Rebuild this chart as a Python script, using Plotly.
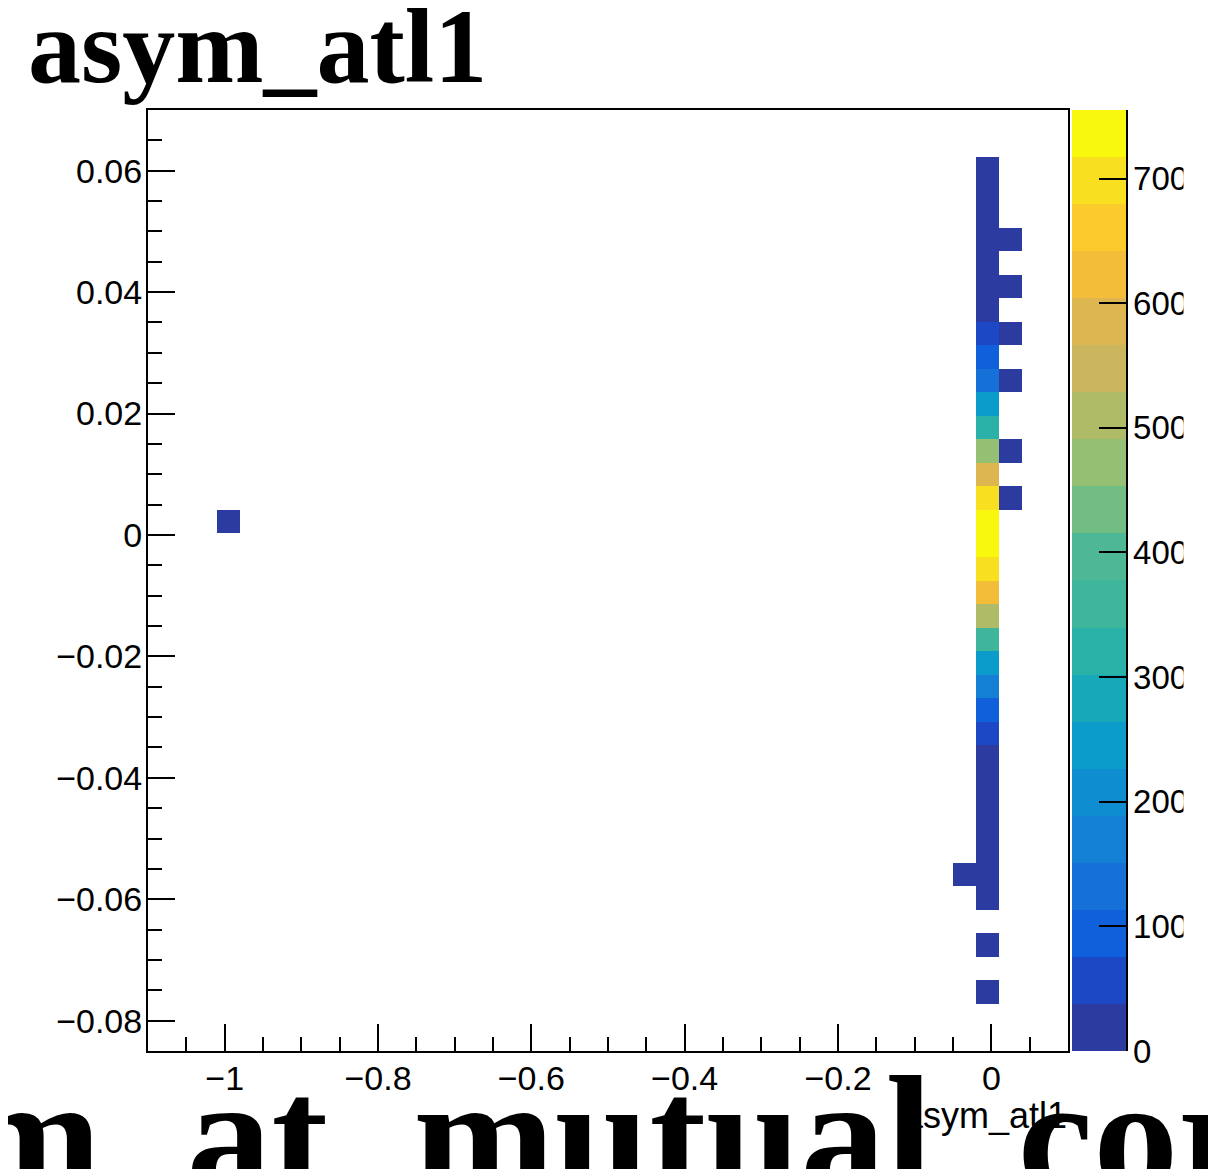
import numpy as np
import plotly.graph_objects as go

# ---------------- data ----------------
# histogram binning (40 x 40 bins)
X_LO, X_HI, NX = -1.1, 0.1, 40
Y_LO, Y_HI, NY = -0.085, 0.07, 40

# main column of cells at x = -0.005
main_x = -0.005
main_y = [0.0603, 0.0564, 0.0526, 0.0487, 0.0448, 0.0409, 0.0371, 0.0332,
          0.0293, 0.0254, 0.0216, 0.0177, 0.0138, 0.0099, 0.0061, 0.0022,
          -0.0017, -0.0056, -0.0094, -0.0133, -0.0172, -0.0211, -0.0249,
          -0.0288, -0.0327, -0.0366, -0.0404, -0.0443, -0.0482, -0.0521,
          -0.0559, -0.0598, -0.0676, -0.0753]
main_n = [3, 6, 9, 12, 18, 24, 33, 60,
          95, 145, 245, 305, 475, 590, 700, 755,
          745, 705, 625, 510, 345, 255, 170,
          95, 55, 30, 22, 15, 10, 8,
          6, 4, 2, 1]

# column at x = 0.025
right_x = 0.025
right_y = [0.0487, 0.0409, 0.0332, 0.0254, 0.0138, 0.0061]
right_n = [2, 1, 3, 2, 1, 2]

# isolated cells
other_x = [-0.035, -0.995]
other_y = [-0.0559, 0.0022]
other_n = [1, 1]

Z_MAX = 755
colorbar_ticks = [0, 100, 200, 300, 400, 500, 600, 700]

# palette bands (20 contour levels), bottom -> top
band_colors = ["#2B3BA0", "#1C48C6", "#1060DC", "#1570D8", "#1480D5",
               "#0E8ED1", "#0C9CCC", "#17A9BA", "#2BB2A8", "#3FB69C",
               "#4EB896", "#72BD84", "#95BF72", "#B0BB68", "#CBB65E",
               "#DDB64F", "#F3BD3A", "#FBCB2C", "#F8E020", "#F8F80E"]

# ---------------- build histogram grid ----------------
cell_x = [main_x] * len(main_y) + [right_x] * len(right_y) + other_x
cell_y = main_y + right_y + other_y
cell_n = main_n + right_n + other_n

x_edges = np.linspace(X_LO, X_HI, NX + 1)
y_edges = np.linspace(Y_LO, Y_HI, NY + 1)
xc = 0.5 * (x_edges[:-1] + x_edges[1:])
yc = 0.5 * (y_edges[:-1] + y_edges[1:])

z = [[None] * NX for _ in range(NY)]
ix = np.digitize(cell_x, x_edges) - 1
iy = np.digitize(cell_y, y_edges) - 1
for a, b, n in zip(ix, iy, cell_n):
    z[int(b)][int(a)] = n

nb = len(band_colors)
colorscale = []
for i, c in enumerate(band_colors):
    colorscale.append([i / nb, c])
    colorscale.append([(i + 1) / nb, c])

# page has an 8px body margin: figure coordinates = page coordinates - 8
OFF = 8
W, H = 1216 - OFF, 1169 - OFF
L, R, T, B = 148 - OFF, 1068 - OFF, 110 - OFF, 1051 - OFF
PW, PH = R - L, B - T


def px_x(p):
    return (p - OFF - L) / PW


def px_y(p):
    return (B - (p - OFF)) / PH


fig = go.Figure()
fig.add_trace(go.Heatmap(
    x=xc, y=yc, z=z, zmin=0, zmax=Z_MAX,
    colorscale=colorscale, hoverongaps=False,
    colorbar=dict(
        x=px_x(1072), xanchor="left", xref="paper",
        y=0.5, yanchor="middle", len=1, lenmode="fraction",
        thickness=54, thicknessmode="pixels", xpad=0, ypad=0,
        outlinewidth=0, ticks="inside", ticklen=27, tickwidth=2,
        tickcolor="black", tickvals=colorbar_ticks,
        tickfont=dict(family="Liberation Sans", size=33, color="black"),
    ),
))

axis_common = dict(
    showgrid=False, zeroline=False, showline=True, linecolor="black",
    linewidth=2, mirror=True, ticks="inside", ticklen=27, tickwidth=2,
    tickcolor="black",
    tickfont=dict(family="Liberation Sans", size=34, color="black"),
)
fig.update_xaxes(range=[X_LO, X_HI], tick0=0, dtick=0.2,
                 ticklabelstandoff=-4,
                 minor=dict(ticks="inside", ticklen=14, tickwidth=2,
                            tickcolor="black", tick0=0, dtick=0.05,
                            showgrid=False),
                 **axis_common)
fig.update_yaxes(range=[Y_LO, Y_HI], tick0=0, dtick=0.02,
                 ticklabelstandoff=-3,
                 minor=dict(ticks="inside", ticklen=14, tickwidth=2,
                            tickcolor="black", tick0=0, dtick=0.005,
                            showgrid=False),
                 **axis_common)

fig.update_layout(
    width=W, height=H,
    margin=dict(l=L, r=W - R, t=T, b=H - B, pad=0, autoexpand=False),
    paper_bgcolor="white", plot_bgcolor="white",
    showlegend=False,
    shapes=[dict(type="line", xref="paper", yref="paper",
                 x0=px_x(1127), x1=px_x(1127), y0=0, y1=1,
                 line=dict(color="black", width=2))],
    annotations=[
        # x axis title
        dict(text="asym_atl1", xref="paper", yref="paper",
             x=px_x(1069), xanchor="right", y=px_y(1093), yanchor="top",
             showarrow=False,
             font=dict(family="Liberation Sans", size=36, color="black")),
        # pad title
        dict(text="<b>asym_atl1</b>", xref="paper", yref="paper",
             x=px_x(26), xanchor="left", y=px_y(-14), yanchor="top",
             showarrow=False,
             font=dict(family="Liberation Serif", size=106, color="black")),
        # large overlapping title from the next pad (cut off)
        dict(text="<b>m_at_mutual_cor</b>", xref="paper", yref="paper",
             x=px_x(-42), xanchor="left", y=px_y(1040), yanchor="top",
             showarrow=False,
             font=dict(family="Liberation Serif", size=170, color="black")),
        # crop of the colorbar labels
        dict(text=" ", xref="paper", yref="paper",
             x=px_x(1183), xanchor="left", y=px_y(100), yanchor="top",
             width=60, height=975, bgcolor="white", showarrow=False),
    ],
)

fig.write_html("out.html")
